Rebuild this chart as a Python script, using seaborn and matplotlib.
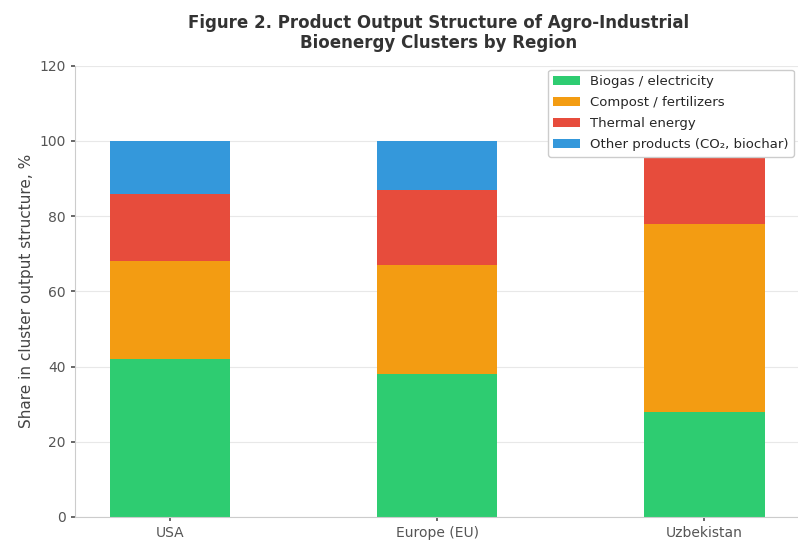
import matplotlib
matplotlib.use("Agg")
import matplotlib.pyplot as plt
import seaborn as sns
import pandas as pd
import numpy as np

regions = ["USA", "Europe (EU)", "Uzbekistan"]
biogas = [42, 38, 28]
compost = [26, 29, 50]
thermal = [18, 20, 18]
other = [14, 13, 4]
series_names = ["Biogas / electricity", "Compost / fertilizers", "Thermal energy",
                "Other products (CO₂, biochar)"]
colors = ["#2ecc71", "#f39c12", "#e74c3c", "#3498db"]

sns.set_theme(style="whitegrid")
plt.rcParams['font.family'] = ['DejaVu Sans']

fig = plt.figure(figsize=(7.98, 5.43), dpi=100)
ax = fig.add_axes([0.094, 0.048, 0.906, 0.831])

layers = [biogas, compost, thermal, other]
cum = np.cumsum(np.array(layers), axis=0)
df = pd.DataFrame({"region": regions})
for i in range(len(layers) - 1, -1, -1):
    df["val"] = cum[i]
    sns.barplot(data=df, x="region", y="val", color=colors[i], width=0.45,
                saturation=1, ax=ax, label=series_names[i], zorder=2, linewidth=0)

ax.set_xlim(-0.355, 2.35)
ax.set_ylim(0, 120)
ax.set_yticks(range(0, 121, 20))
ax.set_xlabel("")
ax.set_ylabel("Share in cluster output structure, %", fontsize=11, color="#444444")
ax.tick_params(axis="both", colors="#555555", labelsize=10, length=3, left=True, bottom=True)
ax.grid(axis="x", visible=False)
ax.grid(axis="y", color="#e8e8e8", linewidth=0.8)
for s in ["top", "right"]:
    ax.spines[s].set_visible(False)
for s in ["left", "bottom"]:
    ax.spines[s].set_color("#cccccc")
    ax.spines[s].set_linewidth(0.8)

handles, labels = ax.get_legend_handles_labels()
order = [labels.index(n) for n in series_names]
leg = ax.legend([handles[k] for k in order], [labels[k] for k in order],
                loc="upper right", fontsize=9.5, frameon=True, framealpha=1,
                edgecolor="#cccccc", borderaxespad=0.3, labelspacing=0.62)
leg.set_zorder(5)

fig.suptitle("Figure 2. Product Output Structure of Agro-Industrial\nBioenergy Clusters by Region",
             fontsize=12, fontweight="bold", color="#333333", x=0.549, y=0.975)

fig.savefig("out.png", dpi=100)
